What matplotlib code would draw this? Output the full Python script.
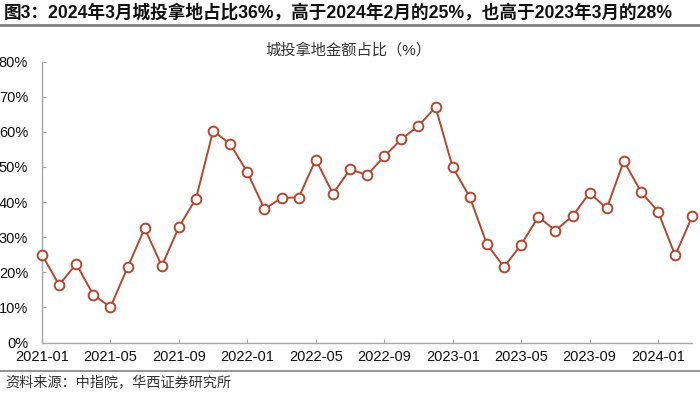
import matplotlib
matplotlib.use('Agg')
from matplotlib import pyplot as plt
import numpy as np

# monthly share, 2021-01 .. 2024-03 (%)
months = ['2021-01', '2021-02', '2021-03', '2021-04', '2021-05', '2021-06',
          '2021-07', '2021-08', '2021-09', '2021-10', '2021-11', '2021-12',
          '2022-01', '2022-02', '2022-03', '2022-04', '2022-05', '2022-06',
          '2022-07', '2022-08', '2022-09', '2022-10', '2022-11', '2022-12',
          '2023-01', '2023-02', '2023-03', '2023-04', '2023-05', '2023-06',
          '2023-07', '2023-08', '2023-09', '2023-10', '2023-11', '2023-12',
          '2024-01', '2024-02', '2024-03']
share = [25.0, 16.4, 22.4, 13.6, 10.1, 21.4, 32.5, 21.8, 32.9, 41.0, 60.3, 56.5,
         48.5, 38.0, 41.2, 41.3, 52.1, 42.4, 49.3, 47.7, 53.0, 57.9, 61.7, 67.0,
         49.9, 41.4, 28.0, 21.5, 27.9, 35.8, 31.9, 36.0, 42.6, 38.2, 51.7, 42.9,
         37.3, 24.8, 36.0]
yticks = [0, 10, 20, 30, 40, 50, 60, 70, 80]

title = '图3：2024年3月城投拿地占比36%，高于2024年2月的25%，也高于2023年3月的28%'
subtitle = '城投拿地金额占比（%）'
source = '资料来源：中指院，华西证券研究所'

fam = ['Liberation Sans', 'Noto Sans CJK SC']
plt.rcParams['font.family'] = fam

fig = plt.figure(figsize=(7, 3.97), dpi=100)
ax = fig.add_axes([0.06, 0.137, 0.929, 0.708])

x = np.arange(len(months))
color = '#b5472f'
ax.plot(x, share, color=color, lw=1.4, marker='o', markersize=7,
        markerfacecolor='white', markeredgecolor=color, markeredgewidth=1.4,
        clip_on=False, zorder=3)

ax.set_xlim(0, len(months) - 1)
ax.set_ylim(0, 80)
ax.set_yticks(yticks)
ax.set_yticklabels([f'{v}%' for v in yticks])
ax.set_xticks(x[::4])
ax.set_xticklabels(months[::4])

for s in ['top', 'right']:
    ax.spines[s].set_visible(False)
for s in ['left', 'bottom']:
    ax.spines[s].set_color('#a6a6a6')
    ax.spines[s].set_linewidth(1.0)
ax.tick_params(axis='both', direction='in', length=3, color='#a6a6a6',
               labelsize=10.5, labelcolor='#111111')
ax.tick_params(axis='y', pad=10)
ax.tick_params(axis='x', pad=5)

fig.text(0.005, 0.968, title, fontsize=12.7, fontweight='bold',
         color='#111111', va='center', ha='left')
fig.add_artist(plt.Line2D([0, 1], [0.937, 0.937], color='#808080', lw=2))
fig.text(0.497, 0.873, subtitle, fontsize=11, color='#333333',
         ha='center', va='center')
fig.add_artist(plt.Line2D([0, 1], [0.066, 0.066], color='#808080', lw=1.2))
fig.text(0.008, 0.035, source, fontsize=10.2, color='#333333',
         ha='left', va='center')

plt.savefig('out.png', dpi=100)
